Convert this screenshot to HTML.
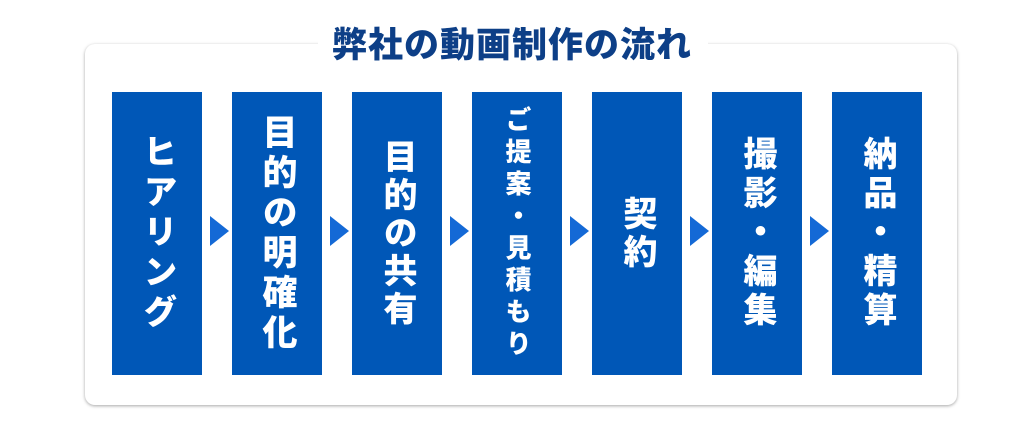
<!DOCTYPE html>
<html><head><meta charset="utf-8"><style>
body{margin:0;width:1024px;height:429px;background:#fff;position:relative;overflow:hidden;font-family:"Liberation Sans","Noto Sans CJK JP",sans-serif;}
.panel{position:absolute;left:85px;top:44px;width:872px;height:361px;border-radius:10px;background:#fff;box-shadow:0 1px 3px rgba(0,0,0,.35);}
.title{position:absolute;left:0;width:1024px;top:24px;text-align:center;font-size:35px;font-weight:900;color:#0d3f87;line-height:44px;letter-spacing:1px;}
.titlebg{position:absolute;left:318px;width:390px;top:38px;height:12px;background:#fff;}
.box{position:absolute;top:92px;width:90px;height:283px;background:#0057b7;color:#fff;font-weight:900;display:flex;align-items:center;justify-content:center;}
.box span{writing-mode:vertical-rl;font-size:34px;line-height:1;}
.arr{position:absolute;top:216px;width:0;height:0;border-top:15px solid transparent;border-bottom:15px solid transparent;border-left:19px solid #1469d6;}
</style></head><body>
<div class="panel"></div>
<div class="titlebg"></div>
<div class="title">弊社の動画制作の流れ</div>
<div class="box" style="left:112px"><span style="letter-spacing:6px">ヒアリング</span></div>
<div class="box" style="left:232px"><span style="letter-spacing:5px;font-size:35px">目的の明確化</span></div>
<div class="box" style="left:352px"><span style="letter-spacing:4px">目的の共有</span></div>
<div class="box" style="left:472px"><span style="letter-spacing:6px;font-size:26px">ご提案・見積もり</span></div>
<div class="box" style="left:592px"><span style="letter-spacing:4px">契約</span></div>
<div class="box" style="left:712px"><span style="letter-spacing:5px">撮影・編集</span></div>
<div class="box" style="left:832px"><span style="letter-spacing:5px">納品・精算</span></div>
<div class="arr" style="left:210px"></div>
<div class="arr" style="left:330px"></div>
<div class="arr" style="left:450px"></div>
<div class="arr" style="left:570px"></div>
<div class="arr" style="left:690px"></div>
<div class="arr" style="left:810px"></div>
</body></html>
